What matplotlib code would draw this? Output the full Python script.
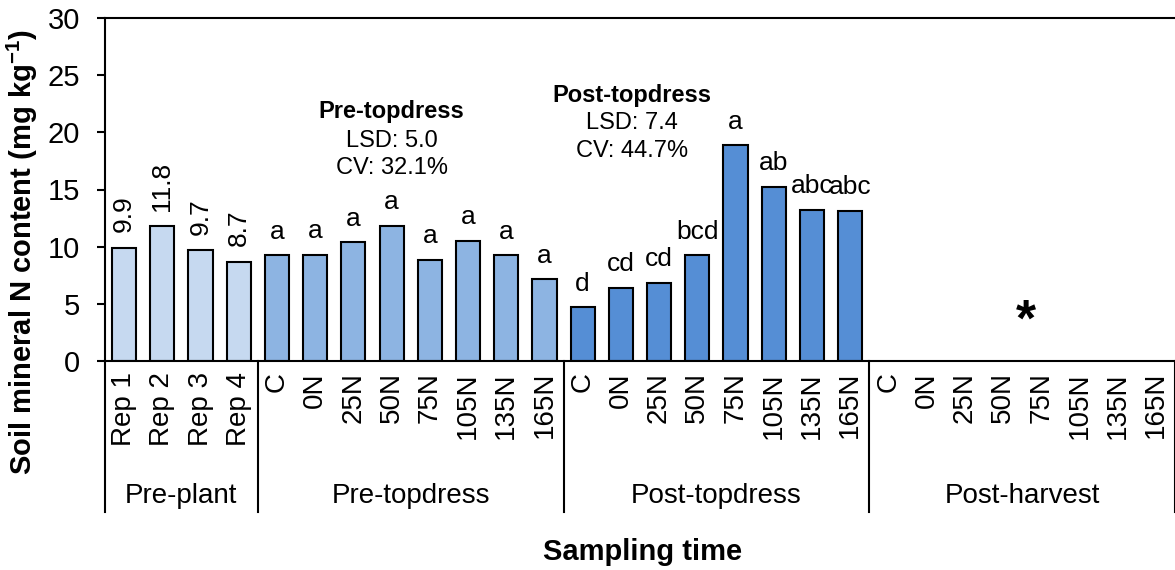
import matplotlib.pyplot as plt
import numpy as np

plt.rcParams['font.family'] = ['Liberation Sans', 'DejaVu Sans']

groups = ['Pre-plant', 'Pre-topdress', 'Post-topdress', 'Post-harvest']
rep_labels = ['Rep 1', 'Rep 2', 'Rep 3', 'Rep 4']
trt_labels = ['C', '0N', '25N', '50N', '75N', '105N', '135N', '165N']

preplant = [9.9, 11.8, 9.7, 8.7]
pretopdress = [9.25, 9.3, 10.4, 11.85, 8.85, 10.5, 9.25, 7.15]
posttopdress = [4.7, 6.4, 6.85, 9.25, 18.85, 15.25, 13.25, 13.15]

pre_letters = ['a', 'a', 'a', 'a', 'a', 'a', 'a', 'a']
post_letters = ['d', 'cd', 'cd', 'bcd', 'a', 'ab', 'abc', 'abc']

colors = ['#C6D9F0', '#8DB4E2', '#558ED5']

fig = plt.figure(figsize=(11.75, 5.7), dpi=100)
ax = fig.add_axes([105 / 1175, 1 - 361 / 570, 1 - 105 / 1175, 343 / 570])

tick_labels = rep_labels + trt_labels * 3
n = len(tick_labels)
x = np.arange(n)

x_pp = x[0:4]
x_pt = x[4:12]
x_po = x[12:20]

w = 0.63
ax.bar(x_pp, preplant, width=w, color=colors[0], edgecolor='black', linewidth=1.5)
ax.bar(x_pt, pretopdress, width=w, color=colors[1], edgecolor='black', linewidth=1.5)
ax.bar(x_po, posttopdress, width=w, color=colors[2], edgecolor='black', linewidth=1.5)

# value labels
for xi, v in zip(x_pp, preplant):
    ax.text(xi, v + 1.35, f'{v:.1f}', rotation=90, ha='center', va='bottom', fontsize=19)
for xi, v, l in zip(x_pt, pretopdress, pre_letters):
    ax.text(xi, v + 1.45, l, ha='center', va='baseline', fontsize=19)
for xi, v, l in zip(x_po, posttopdress, post_letters):
    ax.text(xi, v + 1.45, l, ha='center', va='baseline', fontsize=19)

# stats annotations
ax.text(7.0, 21.23, 'Pre-topdress', ha='center', va='baseline', fontsize=17, fontweight='bold')
ax.text(7.0, 18.75, 'LSD: 5.0', ha='center', va='baseline', fontsize=17)
ax.text(7.0, 16.33, 'CV: 32.1%', ha='center', va='baseline', fontsize=17)
ax.text(13.28, 22.69, 'Post-topdress', ha='center', va='baseline', fontsize=17, fontweight='bold')
ax.text(13.28, 20.26, 'LSD: 7.4', ha='center', va='baseline', fontsize=17)
ax.text(13.28, 17.88, 'CV: 44.7%', ha='center', va='baseline', fontsize=17)

# post-harvest marker
ax.text(23.6, 2.2, '*', ha='center', va='baseline', fontsize=37, fontweight='bold')

ax.set_xlim(-0.5, n - 0.5)
ax.set_ylim(0, 30)
ax.set_yticks(np.arange(0, 31, 5))
ax.tick_params(axis='y', labelsize=21, length=6, width=1.5, pad=12)
ax.set_xticks(x)
ax.set_xticklabels(tick_labels, rotation=90, fontsize=20, va='top')
ax.tick_params(axis='x', length=0, pad=8)

for s in ['left', 'bottom', 'top']:
    ax.spines[s].set_linewidth(1.5)
ax.spines['right'].set_visible(False)

# group separators and labels
trans = ax.get_xaxis_transform()
for b in [-0.5, 3.5, 11.5, 19.5, 27.5]:
    ax.plot([b, b], [0, -0.44], color='black', lw=1.5, transform=trans, clip_on=False)
centers = [1.5, 7.5, 15.5, 23.5]
for c, g in zip(centers, groups):
    ax.text(c, -0.414, g, transform=trans, ha='center', va='baseline', fontsize=20)

fig.text(22 / 1175, 1 - 252 / 570, 'Soil mineral N content (mg kg$^{\\mathregular{-1}}$)',
         rotation=90, ha='center', va='center', fontsize=21, fontweight='bold')
fig.text(643 / 1175, 1 - 560 / 570, 'Sampling time', ha='center', va='baseline',
         fontsize=21, fontweight='bold')

fig.savefig('out.png', dpi=100)
